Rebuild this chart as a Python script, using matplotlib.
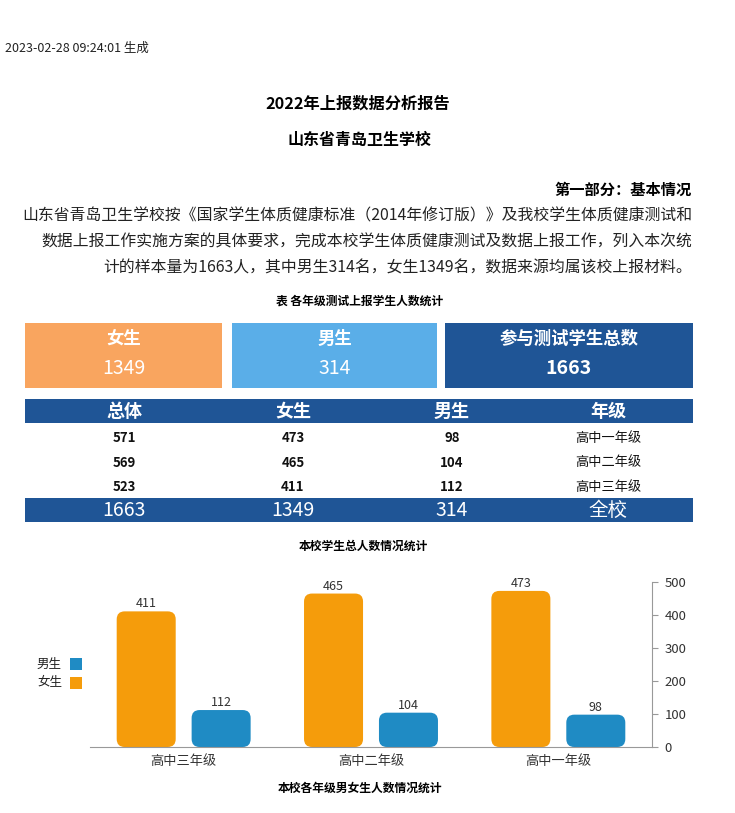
import matplotlib
matplotlib.use("Agg")
import matplotlib.pyplot as plt
from matplotlib.patches import Rectangle, FancyBboxPatch
import numpy as np

plt.rcParams['font.family'] = ['Noto Sans CJK SC', 'DejaVu Sans']

# ===== データ =====
grades = ['高中一年级', '高中二年级', '高中三年级']
boys = [98, 104, 112]
girls = [473, 465, 411]
totals = [571, 569, 523]
school_total = 1663
boys_total = 314
girls_total = 1349

report_time = '2023-02-28 09:24:01 生成'
report_title = '2022年上报数据分析报告'
school_name = '山东省青岛卫生学校'
part_title = '第一部分：基本情况'
para_lines = [
    '山东省青岛卫生学校按《国家学生体质健康标准（2014年修订版）》及我校学生体质健康测试和',
    '数据上报工作实施方案的具体要求，完成本校学生体质健康测试及数据上报工作，列入本次统',
    '计的样本量为1663人，其中男生314名，女生1349名，数据来源均属该校上报材料。',
]
table_caption = '表 各年级测试上报学生人数统计'
table_header = ['年级', '男生', '女生', '总体']
chart_title = '本校学生总人数情况统计'
chart_caption = '本校各年级男女生人数情况统计'

DARK = '#1f5596'
LIGHT = '#5aaee8'
ORANGE_BOX = '#f9a55f'
BAR_ORANGE = '#f59c0b'
BAR_BLUE = '#1f8bc4'

W, H = 735, 813


def draw_page(ax):
    """テキストと表（反転レイアウト）"""
    ax.text(5, 48, report_time, fontsize=9, color='#222', va='center', ha='left')
    ax.text(358, 104, report_title, fontsize=11.7, fontweight='bold', ha='center', va='center')
    ax.text(360, 140, school_name, fontsize=11.5, fontweight='bold', ha='center', va='center')
    ax.text(692, 190, part_title, fontsize=11, fontweight='bold', ha='right', va='center')
    for i, line in enumerate(para_lines):
        ax.text(692, 216 + i * 26, line, fontsize=11.4, ha='right', va='center', color='#222')

    ax.text(360, 301, table_caption, fontsize=8.5, fontweight='bold', ha='center', va='center')

    # 上のボックス
    boxes = [
        (25, 222, ORANGE_BOX, '女生', girls_total, 'normal'),
        (232, 437, LIGHT, '男生', boys_total, 'normal'),
        (445, 693, DARK, '参与测试学生总数', school_total, 'bold'),
    ]
    for x0, x1, col, label, val, vw in boxes:
        ax.add_patch(Rectangle((x0, 323), x1 - x0, 65, color=col, lw=0))
        cx = (x0 + x1) / 2
        ax.text(cx, 339, label, fontsize=12.5, fontweight='bold', color='white', ha='center', va='center')
        ax.text(cx, 368, str(val), fontsize=14, fontweight=vw, color='white', ha='center', va='center')

    # 表
    col_x = [608, 452, 293, 124]
    ax.add_patch(Rectangle((25, 399), 668, 24, color=DARK, lw=0))
    for x, h in zip(col_x, table_header):
        ax.text(x, 411, h, fontsize=13, fontweight='bold', color='white', ha='center', va='center')

    for i, g in enumerate(grades):
        y = 438 + i * 24.5
        ax.text(col_x[0], y, g, fontsize=9.5, color='#111', ha='center', va='center')
        for x, v in zip(col_x[1:], [boys[i], girls[i], totals[i]]):
            ax.text(x, y, str(v), fontsize=9.5, fontweight='bold', color='#111', ha='center', va='center')

    ax.add_patch(Rectangle((25, 498), 668, 24, color=DARK, lw=0))
    for x, v in zip(col_x, ['全校', boys_total, girls_total, school_total]):
        ax.text(x, 510, str(v), fontsize=14, color='white', ha='center', va='center')

    ax.text(363, 546, chart_title, fontsize=8.5, fontweight='bold', ha='center', va='center')
    ax.text(360, 788, chart_caption, fontsize=8.5, fontweight='bold', ha='center', va='center')

    # 凡例
    ax.add_patch(Rectangle((70, 658), 12, 12, color=BAR_BLUE, lw=0))
    ax.add_patch(Rectangle((70, 677), 12, 12, color=BAR_ORANGE, lw=0))
    ax.text(62, 664, '男生', fontsize=9, color='#222', ha='right', va='center')
    ax.text(62, 683, '女生', fontsize=9, color='#222', ha='right', va='center')


def draw_bars(ax):
    """棒グラフ（x軸反転、y軸右側）"""
    x = np.arange(len(grades))
    width = 0.315
    off = 0.2
    ax.set_xlim(2.5, -0.5)
    ax.set_ylim(0, 500)

    # 角丸の縦横比
    x_per_px = 3.0 / (652 - 90)
    y_per_px = 500.0 / (747 - 582)
    aspect = y_per_px / x_per_px
    r = 8 * x_per_px

    for xi, b, g in zip(x, boys, girls):
        for cx, val, col in [(xi - off, b, BAR_BLUE), (xi + off, g, BAR_ORANGE)]:
            p = FancyBboxPatch((cx - width / 2, 0), width, val,
                               boxstyle='round,pad=0,rounding_size={0}'.format(r),
                               mutation_aspect=aspect, fc=col, ec='none')
            ax.add_patch(p)
            ax.text(cx, val + 3, str(val), fontsize=9, color='#333', ha='center', va='bottom')

    ax.set_xticks(x)
    ax.set_xticklabels(grades, fontsize=9.5, color='#333')
    ax.tick_params(axis='x', length=0, pad=6)
    ax.yaxis.tick_right()
    ax.set_yticks(np.arange(0, 501, 100))
    ax.tick_params(axis='y', labelsize=9.5, labelcolor='#333', length=4, color='#999', direction='out', pad=5)
    for s in ['top', 'left']:
        ax.spines[s].set_visible(False)
    ax.spines['right'].set_color('#999')
    ax.spines['bottom'].set_color('#999')
    ax.patch.set_alpha(0)


def main():
    fig = plt.figure(figsize=(W / 100, H / 100), dpi=100)
    fig.patch.set_facecolor('white')

    bg = fig.add_axes([0, 0, 1, 1])
    bg.set_xlim(0, W)
    bg.set_ylim(H, 0)
    bg.axis('off')
    draw_page(bg)

    chart = fig.add_axes([90 / W, (H - 747) / H, (652 - 90) / W, (747 - 582) / H])
    draw_bars(chart)

    fig.savefig('out.png', dpi=100)
    plt.close(fig)


if __name__ == '__main__':
    main()
